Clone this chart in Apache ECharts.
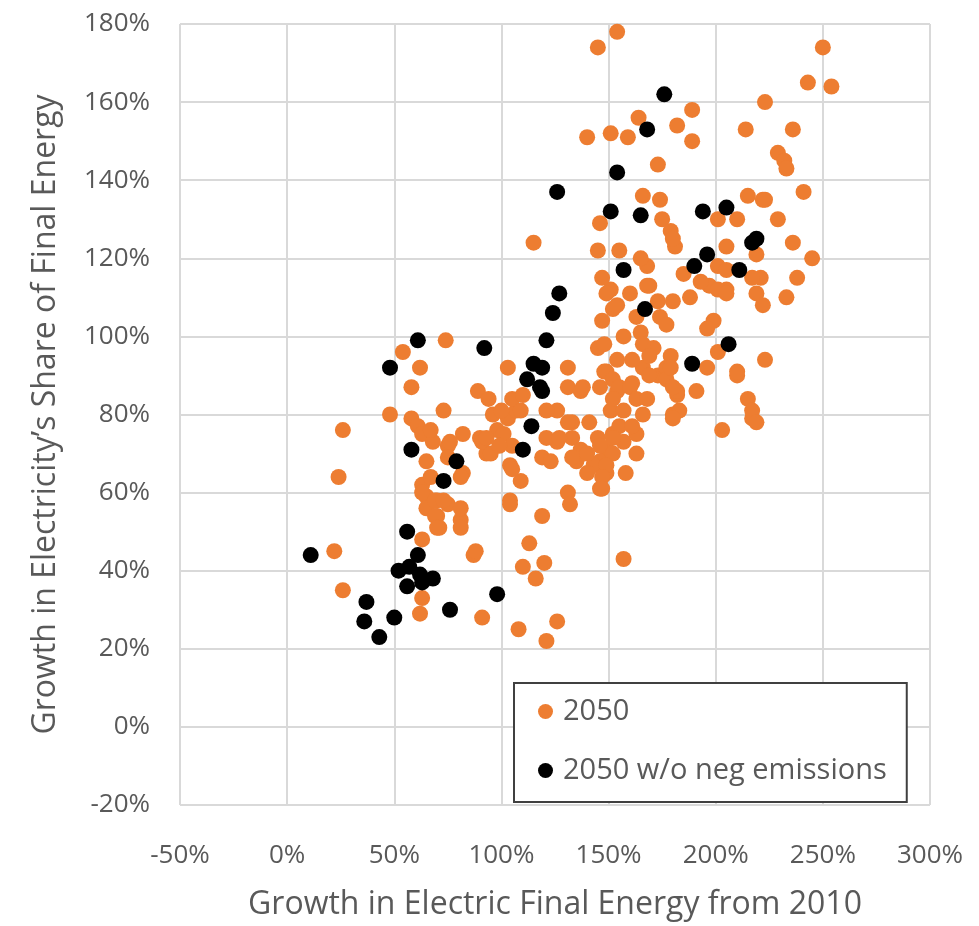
<!DOCTYPE html>
<html>
<head>
<meta charset="utf-8">
<script src="https://cdn.jsdelivr.net/npm/echarts@6/dist/echarts.min.js"></script>
<style>
html,body{margin:0;padding:0;background:#fff;}
#chart{width:979px;height:926px;}
</style>
</head>
<body>
<div id="chart"></div>
<script>
// Series names
var seriesNames = ['2050', '2050 w/o neg emissions'];
// Axis ranges / ticks (percent)
var xTicks = [-50, 0, 50, 100, 150, 200, 250, 300];
var yTicks = [-20, 0, 20, 40, 60, 80, 100, 120, 140, 160, 180];
var xTitle = 'Growth in Electric Final Energy from 2010';
var yTitle = 'Growth in Electricity\u2019s Share of Final Energy';

// 2050 scenarios: [growth in electric final energy %, growth in electricity share %]
var points2050 = [
[54,96],[74,99],[62,92],[58,87],[26,76],[24,64],[48,80],[58,79],[73,81],[89,86],[94,84],[61,77],[63,75],[68,73],[75,72],[82,75],[90,74],[96,80],[93,70],[65,68],[75,69],[82,65],[63,62],[65,59],[63,60],[70,58],[75,57],[65,56],[70,54],[71,51],[81,53],[81,51],[63,48],[22,45],[87,44],[26,35],[63,33],[62,29],[91,28],[81,64],
[103,92],[131,92],[131,87],[126,81],[133,78],[133,74],[67,76],[76,73],[98,76],[103,79],[107,81],[105,84],[110,85],[91,73],[95,70],[104,67],[109,63],[104,58],[119,54],[113,47],[88,45],[119,69],[126,73],[131,60],[132,57],[67,64],[69,58],[73,58],[69,54],[70,51],[81,56],
[137,86],[100,81],[109,81],[131,78],[141,78],[93,74],[101,75],[105,72],[99,72],[121,74],[127,74],[137,71],[123,68],[105,66],[146,61],[145,97],[152,107],[157,100],[165,101],[171,97],[179,95],[149,91],[154,86],[151,81],[152,75],[157,73],[149,71],[146,68],[143,67],[138,70],[135,68],[140,65],[149,65],[158,65],[163,70],[163,75],[166,80],[161,88],[166,92],[173,90],[177,91],[182,85],[180,80],[145,74],[133,69],
[151,112],[160,111],[169,113],[173,109],[180,109],[188,110],[197,113],[205,112],[154,108],[163,105],[174,105],[177,103],[199,104],[196,102],[201,96],[166,98],[154,94],[161,94],[169,95],[177,92],[169,90],[177,89],[148,91],[152,89],[146,87],[155,87],[160,87],[163,84],[168,84],[152,84],[157,81],[138,87],[155,77],[161,77],[152,74],[146,72],[140,70],[152,70],[149,67],[147,64],[147,61],[182,86],[191,86],[196,92],[183,81],[180,79],[210,90],[215,84],[217,79],[203,76],
[154,178],[145,174],[250,174],[243,165],[254,164],[223,160],[189,158],[164,156],[182,154],[140,151],[151,152],[159,151],[189,150],[214,153],[236,153],[229,147],[232,145],[233,143],[173,144],[241,137],[166,136],[174,135],[146,129],[175,130],[179,127],[181,123],[201,130],[210,130],[215,136],[222,135],[229,130],[236,124],[245,120],[238,115],[145,122],[155,122],[168,118],[147,115],[205,123],[219,121],[221,115],[201,118],
[223,135],[233,110],[217,115],[219,111],[222,108],[201,112],[205,111],[223,94],[210,91],[217,81],[219,78],[180,87],[179,92],[180,125],[165,120],[168,113],[185,116],[193,114],[205,117],
[115,124],[157,43],[104,57],[110,41],[120,42],[116,38],[108,25],[126,27],[121,22],[149,111],[147,104],[148,98],[121,81]
];

// 2050 scenarios without negative emissions
var pointsNoNeg = [
[11,44],[37,32],[36,27],[43,23],[50,28],[48,92],[61,99],[58,71],[56,50],[61,44],[52,40],[57,41],[62,39],[68,38],[56,36],[63,37],[76,30],[98,34],[92,97],[79,68],[73,63],
[124,106],[127,111],[126,137],[121,99],[115,93],[119,92],[112,89],[118,87],[119,86],[114,77],[110,71],
[167,107],[151,132],[154,142],[157,117],[165,131],[168,153],[176,162],[194,132],[205,133],[219,125],[217,124],[196,121],[190,118],[211,117],[206,98],[189,93]
];

var textColor = '#595959';
var fontFam = '"Open Sans", "Liberation Sans", sans-serif';

var chart = echarts.init(document.getElementById('chart'), null, {renderer: 'canvas'});
chart.setOption({
  animation: false,
  backgroundColor: '#ffffff',
  grid: {left: 180, right: 49, top: 24, bottom: 119, containLabel: false},
  xAxis: {
    type: 'value',
    min: xTicks[0], max: xTicks[xTicks.length - 1], interval: 50,
    name: xTitle, nameLocation: 'middle', nameGap: 84,
    nameTextStyle: {color: textColor, fontSize: 32, fontFamily: fontFam},
    axisLine: {show: false}, axisTick: {show: false},
    axisLabel: {color: textColor, fontSize: 26, fontFamily: fontFam, margin: 38,
      formatter: function (v) { return v + '%'; }},
    splitLine: {show: true, lineStyle: {color: '#d9d9d9', width: 2}}
  },
  yAxis: {
    type: 'value',
    min: yTicks[0], max: yTicks[yTicks.length - 1], interval: 20,
    name: yTitle, nameLocation: 'middle', nameGap: 118, nameRotate: 90,
    nameTextStyle: {color: textColor, fontSize: 32, fontFamily: fontFam},
    axisLine: {show: false}, axisTick: {show: false},
    axisLabel: {color: textColor, fontSize: 26, fontFamily: fontFam, margin: 30,
      formatter: function (v) { return v + '%'; }},
    splitLine: {show: true, lineStyle: {color: '#d9d9d9', width: 2}}
  },
  legend: {
    orient: 'vertical',
    left: 514, top: 683,
    backgroundColor: '#ffffff',
    borderColor: '#404040', borderWidth: 2, borderRadius: 0,
    padding: [14, 20, 17, 24],
    itemGap: 30,
    itemWidth: 15, itemHeight: 15,
    icon: 'circle',
    textStyle: {color: textColor, fontSize: 29, fontFamily: fontFam, padding: [0, 0, 0, 5]},
    data: seriesNames
  },
  series: [
    {name: seriesNames[0], type: 'scatter', data: points2050, symbolSize: 16,
     itemStyle: {color: '#ED7D31', opacity: 1}},
    {name: seriesNames[1], type: 'scatter', data: pointsNoNeg, symbolSize: 16,
     itemStyle: {color: '#000000', opacity: 1}}
  ]
});
</script>
</body>
</html>
